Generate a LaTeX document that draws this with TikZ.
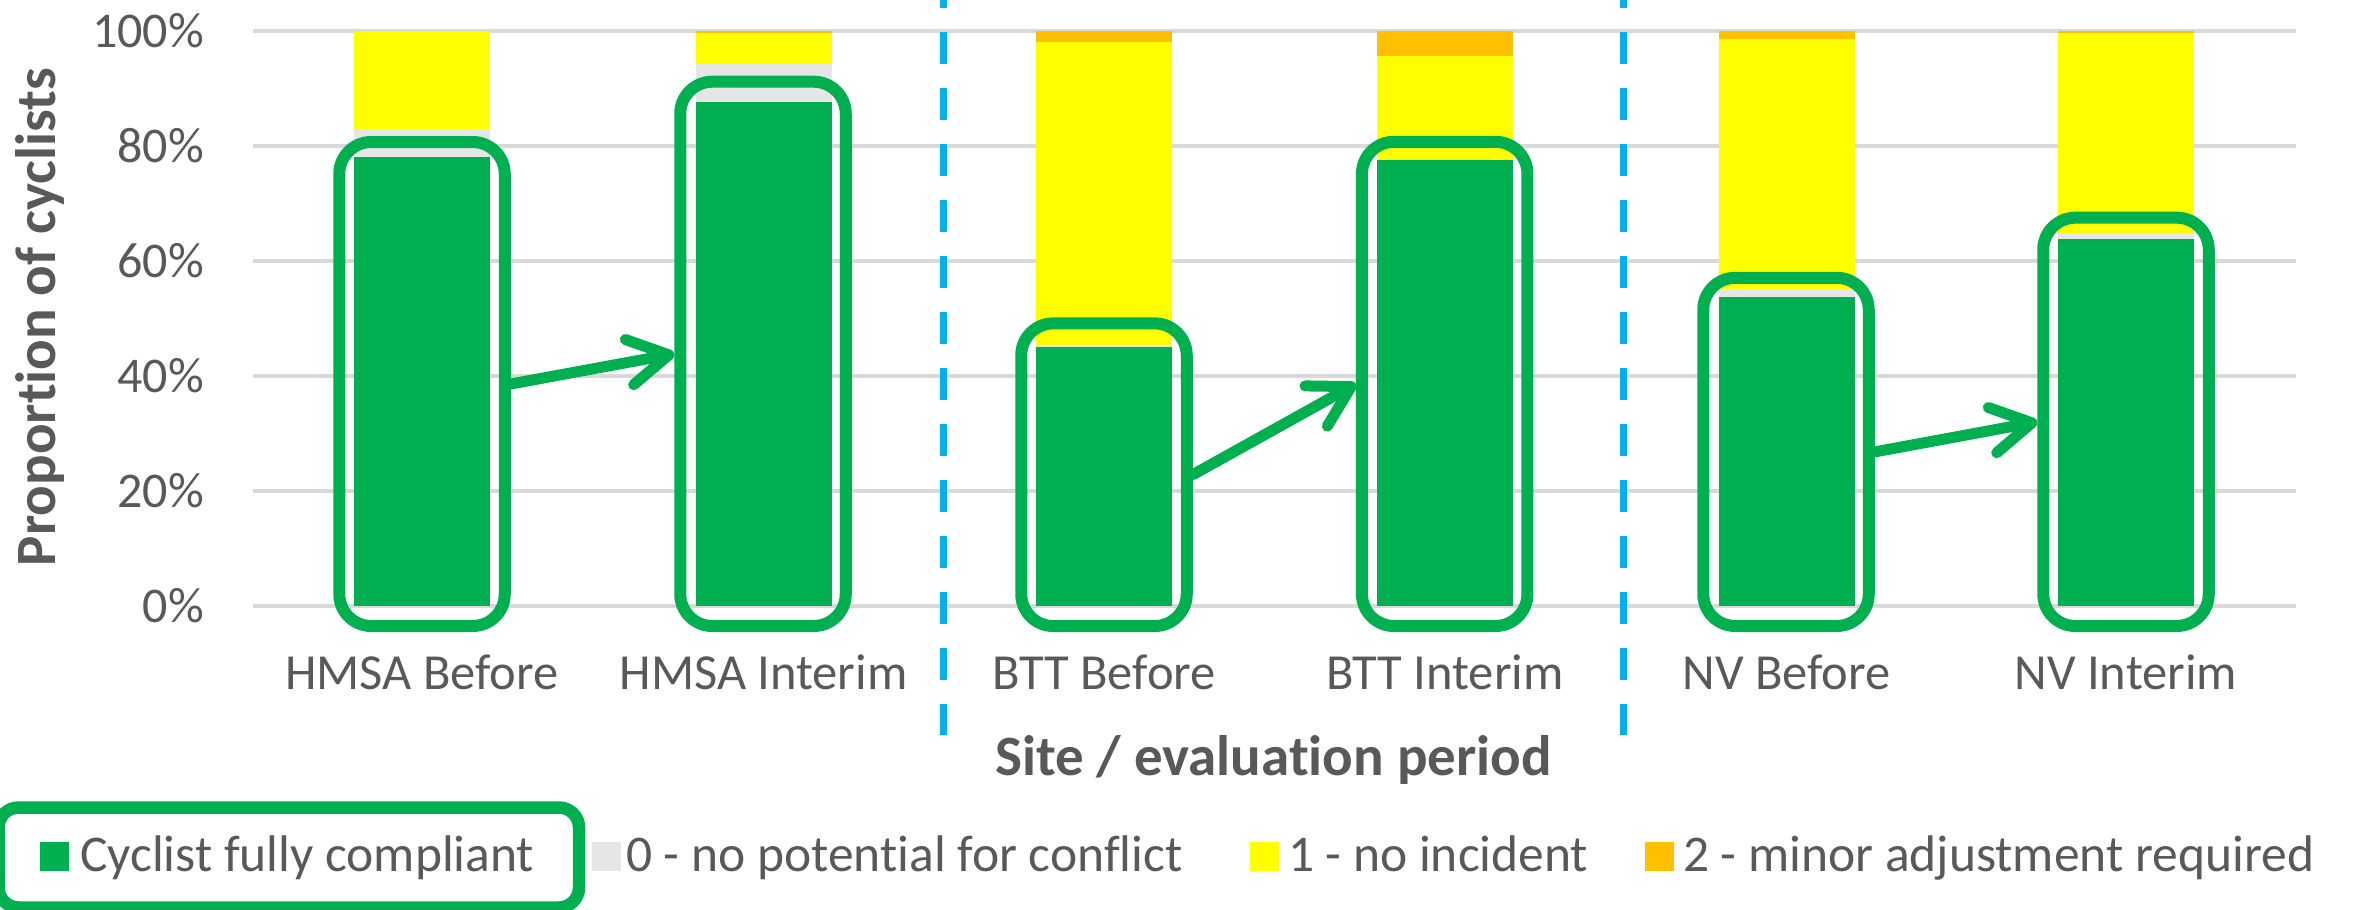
\documentclass[tikz,border=0pt]{standalone}
\usepackage{fontspec}
\setmainfont{Carlito}[Ligatures={NoCommon}]
\usetikzlibrary{arrows.meta}
\definecolor{cgreen}{HTML}{00B050}
\definecolor{cyellow}{HTML}{FFFF00}
\definecolor{corange}{HTML}{FFC000}
\definecolor{cgray}{HTML}{E7E6E6}
\definecolor{cgrid}{HTML}{D9D9D9}
\definecolor{ctext}{HTML}{595959}
\definecolor{cblue}{HTML}{00B0F0}
\newcommand\drawbar[4]{%
  \fill[cgreen] ({#1-68},606) rectangle ({#1+68},{606-5.75*#2});
  \fill[cgray] ({#1-68},{606-5.75*#2}) rectangle ({#1+68},{606-5.75*#3});
  \fill[cyellow] ({#1-68},{606-5.75*#3}) rectangle ({#1+68},{606-5.75*#4});
  \fill[corange] ({#1-68},{606-5.75*#4}) rectangle ({#1+68},31);
}
\begin{document}
\begin{tikzpicture}[x=1pt,y=-1pt,
  grid/.style={draw=cgrid,line width=3.5pt},
  sepline/.style={draw=cblue,line width=7.6pt,dash pattern=on 31.5pt off 24.5pt,dash phase=24pt},
  ticklab/.style={anchor=east,inner sep=0pt,text=ctext,font=\fontsize{50}{60}\selectfont},
  xlab/.style={anchor=base,inner sep=0pt,text=ctext,font=\fontsize{50.5}{60}\selectfont},
  axtitle/.style={anchor=base,inner sep=0pt,text=ctext,font=\fontsize{57}{68}\selectfont\bfseries},
  leglab/.style={anchor=base west,inner sep=0pt,text=ctext,font=\fontsize{51.5}{60}\selectfont},
  legsq/.style={anchor=south west,inner sep=0pt,minimum width=29pt,minimum height=29pt,fill=#1},
  hbox/.style={draw=cgreen,line width=12pt,rounded corners=32pt,minimum width=165.5pt,inner sep=0pt,outer sep=6pt},
  arr/.style={draw=cgreen,line width=11pt,line cap=round,-{Straight Barb[length=40pt,width=46pt,round]}}
]
\useasboundingbox (0,0) rectangle (2356,910);
% gridlines and tick labels
\foreach \p in {0,20,40,60,80,100}{
  \draw[grid] (252.6,{606-5.75*\p}) -- (2295.7,{606-5.75*\p});
  \node[ticklab] (t\p) at (204,{606-5.75*\p}) {\p\%};
}
% separators
\draw[sepline] (943.4,0) -- (943.4,735);
\draw[sepline] (1623.3,0) -- (1623.3,735);
% bars
\drawbar{422}{78.1}{82.9}{100}
\drawbar{763.5}{87.6}{94.2}{99.6}
\drawbar{1104.3}{45.0}{45.2}{98.1}
\drawbar{1444.9}{77.6}{77.7}{95.7}
\drawbar{1786.6}{53.7}{55.1}{98.6}
\drawbar{2125.8}{63.8}{64.9}{99.7}
% highlight boxes
\node[hbox,minimum height=484pt] (b1) at (422,384) {};
\node[hbox,minimum height=544.3pt] (b2) at (763,353.85) {};
\node[hbox,minimum height=302.6pt] (b3) at (1104,474.7) {};
\node[hbox,minimum height=484.2pt] (b4) at (1444.7,383.9) {};
\node[hbox,minimum height=348.2pt] (b5) at (1786,451.9) {};
\node[hbox,minimum height=408.3pt] (b6) at (2126,421.85) {};
% arrows
\draw[arr] (b1.east) -- (b2.west);
\draw[arr] (b3.east) -- (b4.west);
\draw[arr] (b5.east) -- (b6.west);
% category labels
\node[xlab] (l1) at (422,689.3) {HMSA Before};
\node[xlab] (l2) at (763.5,689.3) {HMSA Interim};
\node[xlab] (l3) at (1104.3,689.3) {BTT Before};
\node[xlab] (l4) at (1444.9,689.3) {BTT Interim};
\node[xlab] (l5) at (1786.6,689.3) {NV Before};
\node[xlab] (l6) at (2125.8,689.3) {NV Interim};
% axis titles
\node[axtitle] (xt) at (1273.4,775) {Site / evaluation period};
\node[axtitle,rotate=90] (yt) at (55,317) {Proportion of cyclists};
% legend
\node[draw=cgreen,line width=12.5pt,rounded corners=20pt,minimum width=580.5pt,minimum height=100pt,inner sep=0pt] (legbox) at (288.75,857.5) {};
\node[legsq=cgreen] (s1) at (39.5,871) {};
\node[leglab] (g1) at (80,871) {Cyclist fully compliant};
\node[legsq=cgray] (s2) at (592,871) {};
\node[leglab] (g2) at (626,871) {0 - no potential for conflict};
\node[legsq=cyellow] (s3) at (1249.5,871) {};
\node[leglab] (g3) at (1288,871) {1 - no incident};
\node[legsq=corange] (s4) at (1644.5,871) {};
\node[leglab] (g4) at (1683,871) {2 - minor adjustment required};
\end{tikzpicture}
\end{document}
